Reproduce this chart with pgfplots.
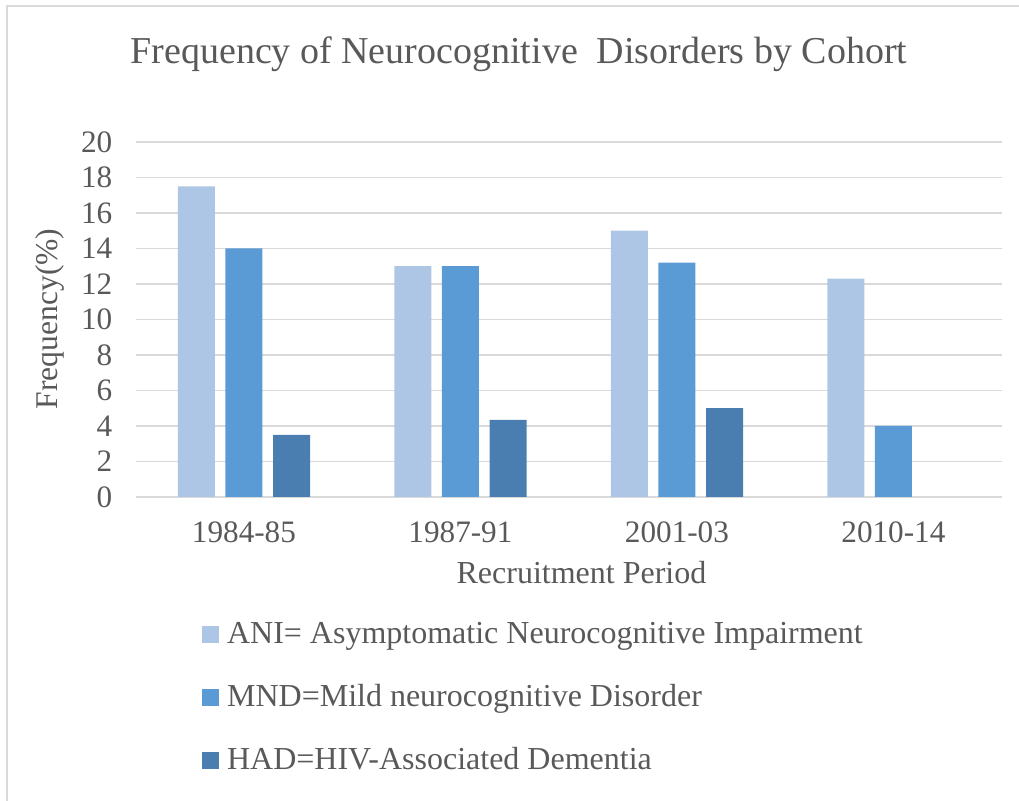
\documentclass[border=0pt]{standalone}
\usepackage{pgfplots}
\pgfplotsset{compat=1.18}
\usepackage{fontspec}
\setmainfont{Liberation Serif}
\definecolor{ani}{HTML}{AEC6E6}
\definecolor{mnd}{HTML}{5B9BD5}
\definecolor{had}{HTML}{4A7EB0}
\definecolor{txt}{HTML}{595959}
\definecolor{grd}{HTML}{D9D9D9}
\begin{document}
\begin{tikzpicture}
\useasboundingbox (-67.85pt,-152pt) rectangle (441.65pt,248.5pt);
\draw[grd, line width=1pt] (-64.35pt,-152pt) -- (-64.35pt,245.5pt) -- (441.65pt,245.5pt);
\begin{axis}[
  at={(0pt,0pt)}, anchor=south west,
  scale only axis, width=433pt, height=177.5pt,
  ybar=5.3pt, bar width=18.5pt,
  xmin=-0.5, xmax=3.5, ymin=0, ymax=20,
  xtick={0,1,2,3}, xticklabels={1984-85,1987-91,2001-03,2010-14},
  ytick={0,2,...,20},
  major tick length=0pt,
  axis x line*=bottom, axis y line*=left,
  x axis line style={grd, line width=0.75pt, -},
  y axis line style={draw=none},
  ymajorgrids, grid style={grd, line width=0.75pt},
  tick label style={font=\fontsize{15.6}{18}\selectfont, text=txt},
  /pgf/number format/assume math mode=true,
  yticklabel style={xshift=-8.2pt},
  xticklabel style={yshift=-8.7pt},
  legend style={at={(axis description cs:0.0693,-0.3394)}, anchor=north west, draw=none, fill=none,
    font=\fontsize{16}{19}\selectfont, text=txt, legend cell align=left,
    nodes={text height=11pt, text depth=4pt, inner sep=0pt},
    row sep=16.5pt, /tikz/every odd column/.append style={column sep=4pt}},
  legend image code/.code={\fill[#1] (0pt,-3pt) rectangle (8.5pt,5.5pt);},
]
\addplot[fill=ani, draw=none] coordinates {(0,17.5) (1,13) (2,15) (3,12.3)};
\addplot[fill=mnd, draw=none] coordinates {(0,14) (1,13) (2,13.2) (3,4)};
\addplot[fill=had, draw=none] coordinates {(0,3.5) (1,4.35) (2,5)};
\legend{ANI= Asymptomatic Neurocognitive Impairment, MND=Mild neurocognitive Disorder, HAD=HIV-Associated Dementia}
\end{axis}
\node[text=txt, font=\fontsize{19}{22}\selectfont, anchor=base] at (191.6pt,216.9pt) {Frequency of Neurocognitive\ \ Disorders by Cohort};
\node[text=txt, font=\fontsize{16}{19}\selectfont, anchor=base] at (222.9pt,-43.5pt) {Recruitment Period};
\node[text=txt, font=\fontsize{15.8}{19}\selectfont, rotate=90, anchor=center] at (-42.8pt,89pt) {Frequency(\%)};
\end{tikzpicture}
\end{document}
